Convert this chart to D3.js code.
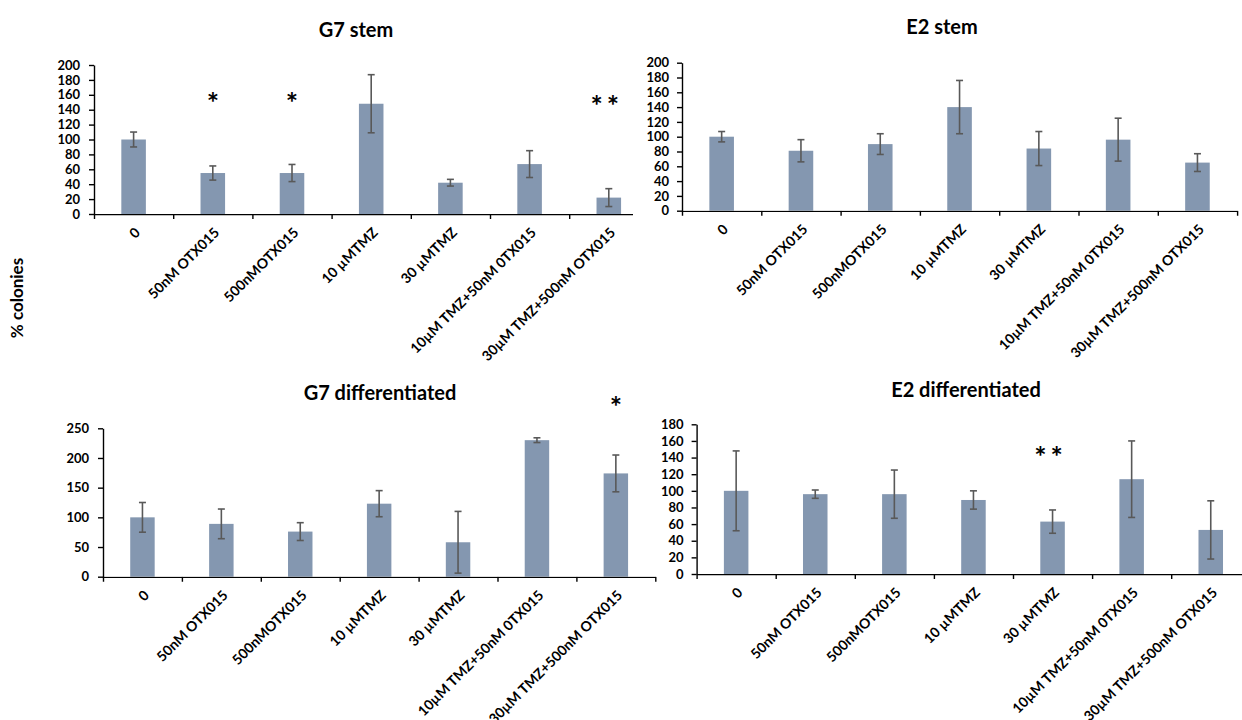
<!DOCTYPE html>
<html>
<head>
<meta charset="utf-8">
<script src="https://cdn.jsdelivr.net/npm/d3@7"></script>
<style>
  html, body { margin: 0; padding: 0; background: #fff; }
  svg { display: block; }
  text { font-family: Lato, "Open Sans", sans-serif; font-weight: bold; fill: #000; }
</style>
</head>
<body>
<svg id="chart" width="1242" height="720"></svg>
<script>
// ---------- data ----------
const categories = ["0", "50nM OTX015", "500nMOTX015", "10 µMTMZ", "30 µMTMZ",
  "10µM TMZ+50nM 0TX015", "30µM TMZ+500nM OTX015"];

const g7StemMeans = [100, 55, 55, 148, 42, 67, 22];
const g7StemErr   = [10, 9.5, 11.5, 39, 4.5, 18, 12];

const e2StemMeans = [100, 81, 90, 140, 84, 96, 65];
const e2StemErr   = [7, 15, 14, 36, 23, 29, 12];

const g7DiffMeans = [100, 89, 76, 123, 58, 230, 174];
const g7DiffErr   = [25, 25, 15, 22, 52, 4, 31];

const e2DiffMeans = [100, 96, 96, 89, 63, 114, 53];
const e2DiffErr   = [48, 5, 29, 11, 14, 46, 35];

const g7StemTicks = [0, 20, 40, 60, 80, 100, 120, 140, 160, 180, 200];
const e2StemTicks = [0, 20, 40, 60, 80, 100, 120, 140, 160, 180, 200];
const g7DiffTicks = [0, 50, 100, 150, 200, 250];
const e2DiffTicks = [0, 20, 40, 60, 80, 100, 120, 140, 160, 180];

// significance marks: category index, mark, level (data units)
const g7StemSig = [{ i: 1, mark: "*", level: 155 }, { i: 2, mark: "*", level: 155 }, { i: 6, mark: "**", level: 150 }];
const e2StemSig = [];
const g7DiffSig = [{ i: 6, mark: "*", level: 293 }];
const e2DiffSig = [{ i: 4, mark: "**", level: 145 }];

const titles = ["G7 stem", "E2 stem", "G7 differentiated", "E2 differentiated"];
const yAxisTitle = "% colonies";

// ---------- layout ----------
const panels = [
  { title: titles[0], means: g7StemMeans, err: g7StemErr, ticks: g7StemTicks, sig: g7StemSig,
    x0: 94, step: 79.2, y0: 214, y1: 65, clipRight: 633, titleX: 356, titleY: 37, pad: 9 },
  { title: titles[1], means: e2StemMeans, err: e2StemErr, ticks: e2StemTicks, sig: e2StemSig,
    x0: 682, step: 79.3, y0: 210.7, y1: 62.7, clipRight: 1242, titleX: 942, titleY: 34, pad: 8 },
  { title: titles[2], means: g7DiffMeans, err: g7DiffErr, ticks: g7DiffTicks, sig: g7DiffSig,
    x0: 103, step: 78.9, y0: 576.7, y1: 428.3, clipRight: 660, titleX: 380, titleY: 400, pad: 9 },
  { title: titles[3], means: e2DiffMeans, err: e2DiffErr, ticks: e2DiffTicks, sig: e2DiffSig,
    x0: 696.6, step: 79.1, y0: 574, y1: 424.3, clipRight: 1242, titleX: 966, titleY: 397, pad: 8 }
];

const BAR_COLOR = "#8497b0";
const ERR_COLOR = "#595959";

const svg = d3.select("#chart");
const defs = svg.append("defs");

panels.forEach((p, k) => {
  const n = categories.length;
  const x1 = p.x0 + p.step * n;
  const x = d3.scaleBand().domain(categories).range([p.x0, x1]).paddingInner(0.69).paddingOuter(0.345);
  const xb = d3.scaleLinear().domain([0, n]).range([p.x0, x1]);
  const ymax = p.ticks[p.ticks.length - 1];
  const y = d3.scaleLinear().domain([0, ymax]).range([p.y0, p.y1]);

  const clipId = "clip" + k;
  defs.append("clipPath").attr("id", clipId).append("rect")
    .attr("x", 0).attr("y", 0).attr("width", p.clipRight).attr("height", 720);

  const g = svg.append("g");

  // bars
  g.selectAll("rect.bar").data(p.means).join("rect")
    .attr("class", "bar")
    .attr("x", (d, i) => x(categories[i]))
    .attr("width", x.bandwidth())
    .attr("y", d => y(d))
    .attr("height", d => y(0) - y(d))
    .attr("fill", BAR_COLOR);

  // error bars
  const eb = g.selectAll("g.err").data(p.means).join("g").attr("class", "err");
  const cx = i => x(categories[i]) + x.bandwidth() / 2;
  eb.append("line")
    .attr("x1", (d, i) => cx(i)).attr("x2", (d, i) => cx(i))
    .attr("y1", (d, i) => y(d + p.err[i])).attr("y2", (d, i) => y(d - p.err[i]))
    .attr("stroke", ERR_COLOR).attr("stroke-width", 1.6);
  [1, -1].forEach(s => {
    eb.append("line")
      .attr("x1", (d, i) => cx(i) - 3.5).attr("x2", (d, i) => cx(i) + 3.5)
      .attr("y1", (d, i) => y(d + s * p.err[i])).attr("y2", (d, i) => y(d + s * p.err[i]))
      .attr("stroke", ERR_COLOR).attr("stroke-width", 1.6);
  });

  // y axis
  const ya = g.append("g").attr("transform", `translate(${p.x0},0)`)
    .call(d3.axisLeft(y).tickValues(p.ticks).tickSize(5).tickSizeOuter(0).tickPadding(p.pad));
  ya.selectAll("path, line").attr("stroke", "#000").attr("stroke-width", 1.4);
  ya.selectAll("text").style("font-size", "13px").attr("fill", "#000");

  // x axis line + ticks between categories
  const xa = g.append("g").attr("transform", `translate(0,${p.y0})`)
    .attr("clip-path", `url(#${clipId})`)
    .call(d3.axisBottom(xb).tickValues(d3.range(0, n + 1)).tickSize(5).tickSizeOuter(0).tickFormat(""));
  xa.selectAll("path, line").attr("stroke", "#000").attr("stroke-width", 1.4);

  // category labels
  const xl = g.append("g").attr("transform", `translate(0,${p.y0})`)
    .call(d3.axisBottom(x).tickSize(0).tickPadding(0));
  xl.select(".domain").remove();
  xl.selectAll("text")
    .style("font-size", "14px")
    .attr("text-anchor", "end")
    .attr("dy", "0.35em")
    .attr("transform", "translate(4,16) rotate(-45)");

  // title
  svg.append("text").attr("x", p.titleX).attr("y", p.titleY)
    .attr("text-anchor", "middle").style("font-size", "20px").text(p.title);

  // significance marks
  g.selectAll("text.sig").data(p.sig).join("text")
    .attr("class", "sig")
    .attr("x", d => cx(d.i) + (d.mark.length > 1 ? -2 : 0))
    .attr("y", d => y(d.level) + 14)
    .attr("text-anchor", "middle")
    .style("font-size", "29px")
    .style("letter-spacing", d => d.mark.length > 1 ? "4px" : "0px")
    .text(d => d.mark);
});

// shared y-axis title
svg.append("text")
  .attr("transform", "translate(23,298) rotate(-90)")
  .attr("text-anchor", "middle")
  .style("font-size", "17px")
  .text(yAxisTitle);
</script>
</body>
</html>
